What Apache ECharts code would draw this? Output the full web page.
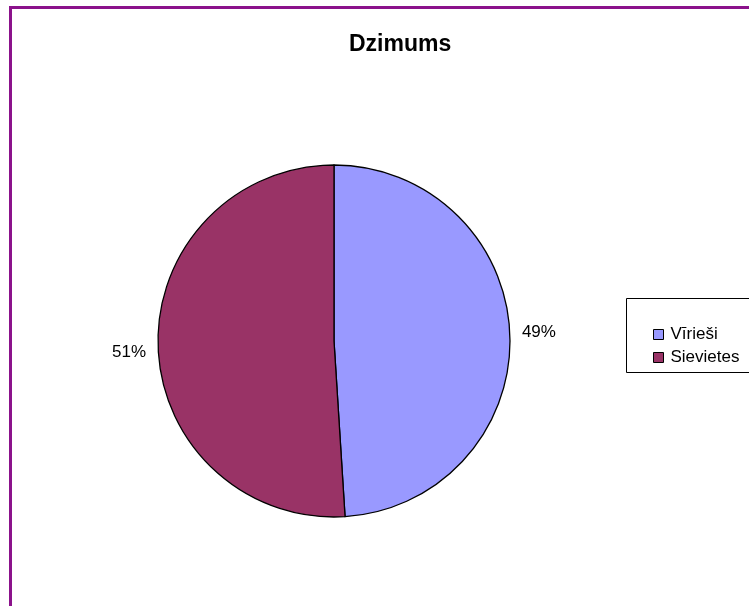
<!DOCTYPE html>
<html>
<head>
<meta charset="utf-8">
<script src="https://cdn.jsdelivr.net/npm/echarts@6/dist/echarts.min.js"></script>
<style>
html,body{margin:0;padding:0;background:#fff;}
#c{width:749px;height:606px;}
</style>
</head>
<body>
<div id="c"></div>
<script>
var titleText = 'Dzimums';
var categories = ['Vīrieši', 'Sievietes'];
var values = [49, 51];
var colors = ['#9999FF', '#993366'];
var labelShift = [[0, -3], [0, 6]];

var chart = echarts.init(document.getElementById('c'), null, {renderer: 'canvas'});
var FONT = '"Liberation Sans", Arial, sans-serif';

var option = {
  animation: false,
  backgroundColor: '#ffffff',
  title: {
    text: titleText,
    left: 344,
    top: 28,
    textStyle: {fontFamily: FONT, fontSize: 23, fontWeight: 'bold', color: '#000'}
  },
  legend: {
    orient: 'vertical',
    left: 648,
    top: 321,
    itemWidth: 10,
    itemHeight: 10,
    itemGap: 6,
    icon: 'rect',
    itemStyle: {borderColor: '#000', borderWidth: 1},
    textStyle: {fontFamily: FONT, fontSize: 17, color: '#000', padding: [0, 0, 0, 2]},
    data: categories
  },
  graphic: [
    {type: 'rect', shape: {x: 10.5, y: 7.5, width: 800, height: 700}, style: {fill: null, stroke: '#8B128B', lineWidth: 3}, z: 100},
    {type: 'rect', shape: {x: 626.5, y: 298.5, width: 200, height: 74}, style: {fill: null, stroke: '#000', lineWidth: 1}, z: 100}
  ],
  series: [{
    type: 'pie',
    center: [334, 341],
    radius: 176,
    startAngle: 90,
    clockwise: true,
    avoidLabelOverlap: false,
    itemStyle: {borderColor: '#000', borderWidth: 1.3},
    label: {
      show: true,
      position: 'outside',
      formatter: '{d}%',
      fontFamily: FONT,
      fontSize: 17,
      color: '#000'
    },
    labelLine: {show: false, length: 7, length2: 0},
    emphasis: {disabled: true},
    data: categories.map(function (c, i) {
      return {name: c, value: values[i], itemStyle: {color: colors[i]}, label: {offset: labelShift[i]}};
    })
  }]
};
chart.setOption(option);
</script>
</body>
</html>
